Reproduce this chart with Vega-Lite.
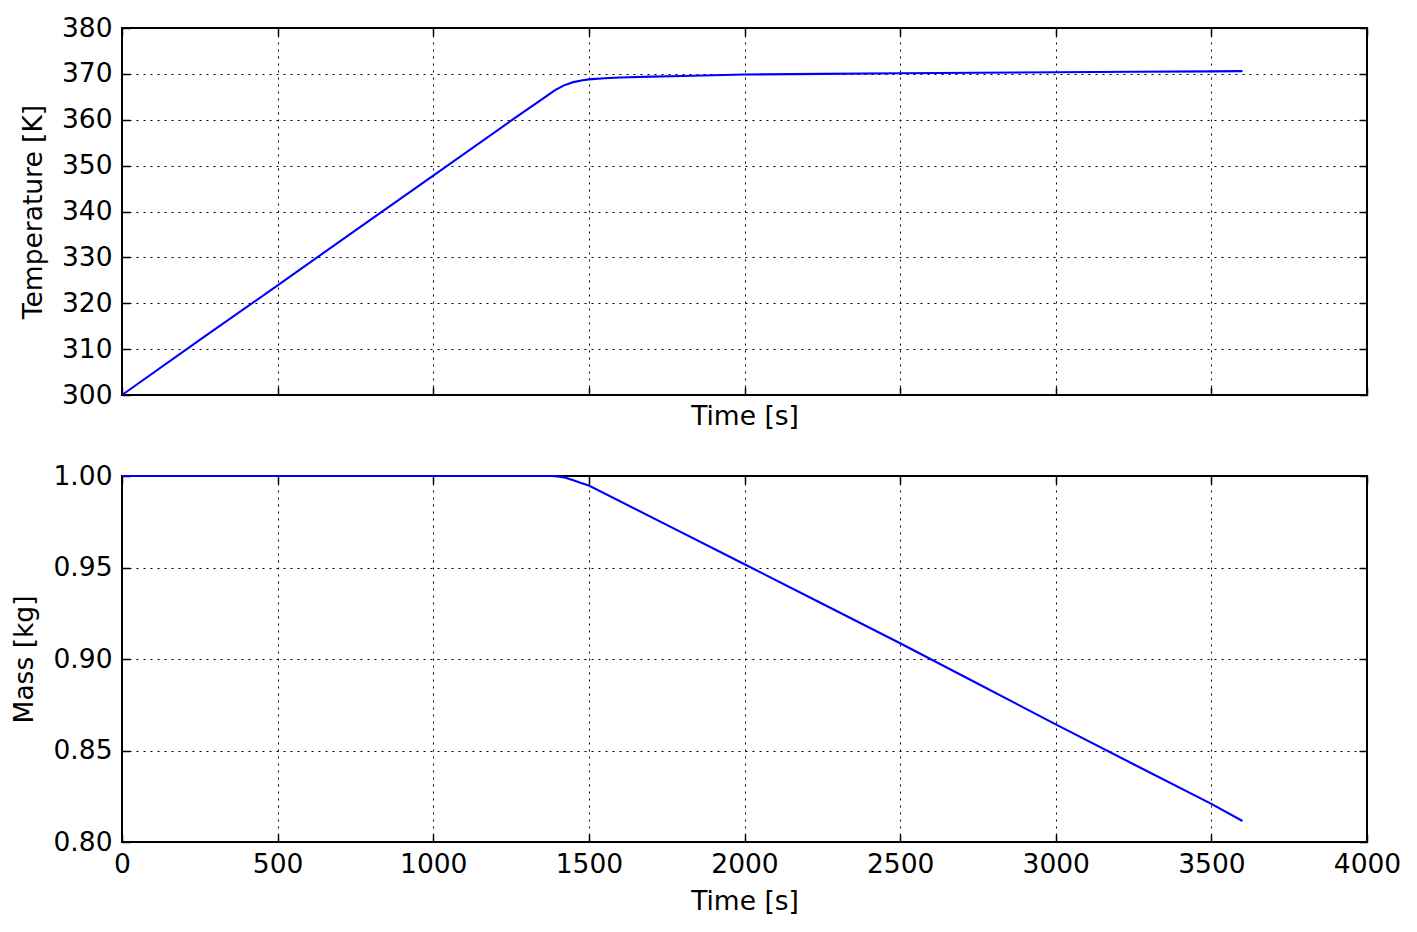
{
  "$schema": "https://vega.github.io/schema/vega-lite/v6.json",
  "padding": {"left": 10, "top": 14, "right": 5, "bottom": 5},
  "background": "white",
  "datasets": {
    "temp": [
      {"t": 0, "T": 300.0},
      {"t": 250, "T": 312.0},
      {"t": 500, "T": 323.9},
      {"t": 750, "T": 335.9},
      {"t": 1000, "T": 347.8},
      {"t": 1250, "T": 359.8},
      {"t": 1350, "T": 364.5},
      {"t": 1390, "T": 366.4},
      {"t": 1420, "T": 367.5},
      {"t": 1450, "T": 368.2},
      {"t": 1480, "T": 368.6},
      {"t": 1500, "T": 368.8},
      {"t": 1550, "T": 369.05},
      {"t": 1600, "T": 369.2},
      {"t": 1700, "T": 369.4},
      {"t": 1800, "T": 369.55},
      {"t": 2000, "T": 369.85},
      {"t": 2250, "T": 370.0},
      {"t": 2500, "T": 370.15},
      {"t": 2750, "T": 370.25},
      {"t": 3000, "T": 370.35},
      {"t": 3250, "T": 370.45},
      {"t": 3500, "T": 370.55},
      {"t": 3600, "T": 370.6}
    ],
    "mass": [
      {"t": 0, "m": 1.0},
      {"t": 1000, "m": 1.0},
      {"t": 1380, "m": 1.0},
      {"t": 1400, "m": 0.9998},
      {"t": 1425, "m": 0.999},
      {"t": 1450, "m": 0.9977},
      {"t": 1475, "m": 0.9962},
      {"t": 1500, "m": 0.9948},
      {"t": 1750, "m": 0.9733},
      {"t": 2000, "m": 0.9518},
      {"t": 2250, "m": 0.9302},
      {"t": 2500, "m": 0.9086},
      {"t": 2750, "m": 0.8865},
      {"t": 3000, "m": 0.8643},
      {"t": 3250, "m": 0.8425},
      {"t": 3500, "m": 0.8208},
      {"t": 3600, "m": 0.8115}
    ]
  },
  "spacing": 30,
  "vconcat": [
    {
      "width": 1245,
      "height": 367,
      "data": {"name": "temp"},
      "layer": [
        {
          "mark": {"type": "line", "color": "#0000ff", "strokeWidth": 2.1},
          "encoding": {
            "x": {
              "field": "t", "type": "quantitative",
              "scale": {"domain": [0, 4000], "nice": false, "zero": false},
              "axis": {"orient": "bottom", "title": "Time [s]", "labels": false, "values": [0, 500, 1000, 1500, 2000, 2500, 3000, 3500, 4000], "titlePadding": 8}
            },
            "y": {
              "field": "T", "type": "quantitative",
              "scale": {"domain": [300, 380], "nice": false, "zero": false},
              "axis": {"orient": "left", "title": "Temperature [K]", "format": "d", "values": [300, 310, 320, 330, 340, 350, 360, 370, 380]}
            }
          }
        },
        {
          "mark": {"type": "line", "opacity": 0},
          "encoding": {
            "x": {"field": "t", "type": "quantitative", "axis": {"orient": "top", "title": null, "labels": false, "grid": false, "values": [0, 500, 1000, 1500, 2000, 2500, 3000, 3500, 4000]}},
            "y": {"field": "T", "type": "quantitative", "axis": {"orient": "right", "title": null, "labels": false, "grid": false, "values": [300, 310, 320, 330, 340, 350, 360, 370, 380]}}
          }
        }
      ],
      "resolve": {"axis": {"x": "independent", "y": "independent"}}
    },
    {
      "width": 1245,
      "height": 366,
      "data": {"name": "mass"},
      "layer": [
        {
          "mark": {"type": "line", "color": "#0000ff", "strokeWidth": 2.1},
          "encoding": {
            "x": {
              "field": "t", "type": "quantitative",
              "scale": {"domain": [0, 4000], "nice": false, "zero": false},
              "axis": {"orient": "bottom", "title": "Time [s]", "format": "d", "values": [0, 500, 1000, 1500, 2000, 2500, 3000, 3500, 4000], "labelPadding": 17, "titlePadding": 11}
            },
            "y": {
              "field": "m", "type": "quantitative",
              "scale": {"domain": [0.8, 1.0], "nice": false, "zero": false},
              "axis": {"orient": "left", "title": "Mass [kg]", "format": ".2f", "values": [0.8, 0.85, 0.9, 0.95, 1.0]}
            }
          }
        },
        {
          "mark": {"type": "line", "opacity": 0},
          "encoding": {
            "x": {"field": "t", "type": "quantitative", "axis": {"orient": "top", "title": null, "labels": false, "grid": false, "values": [0, 500, 1000, 1500, 2000, 2500, 3000, 3500, 4000]}},
            "y": {"field": "m", "type": "quantitative", "axis": {"orient": "right", "title": null, "labels": false, "grid": false, "values": [0.8, 0.85, 0.9, 0.95, 1.0]}}
          }
        }
      ],
      "resolve": {"axis": {"x": "independent", "y": "independent"}}
    }
  ],
  "config": {
    "font": "DejaVu Sans",
    "view": {"stroke": "black", "strokeWidth": 2},
    "axis": {
      "domain": false,
      "labelFont": "DejaVu Sans",
      "labelFontSize": 26.5,
      "labelColor": "black",
      "labelFlush": false,
      "labelOverlap": false,
      "labelPadding": 18,
      "titleFont": "DejaVu Sans",
      "titleFontSize": 26.5,
      "titleFontWeight": "normal",
      "titleColor": "black",
      "titlePadding": 14,
      "tickColor": "black",
      "tickSize": -8,
      "tickWidth": 1.5,
      "grid": true,
      "gridColor": "black",
      "gridOpacity": 1,
      "gridWidth": 1,
      "gridDash": [2, 5]
    }
  }
}
